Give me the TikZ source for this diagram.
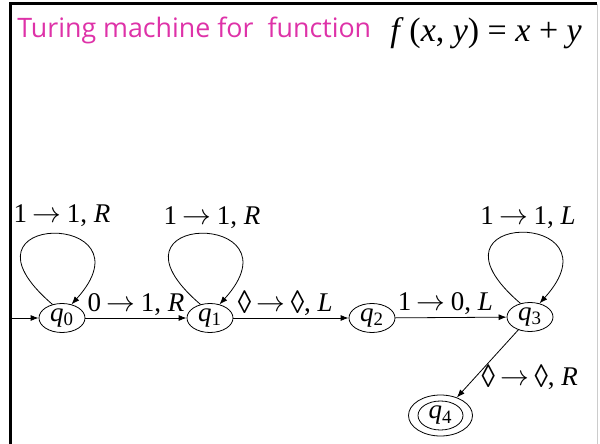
\documentclass[tikz,border=0pt]{standalone}
\usepackage{fontspec}
\usepackage{graphicx}
\usetikzlibrary{shapes.geometric,arrows.meta}
\newfontfamily\tms{Liberation Serif}
\newfontfamily\ttl{Open Sans}
\definecolor{titlepink}{RGB}{222,50,168}
\newcommand{\qs}[1]{\textit{q}\textsubscript{#1}}
\newcommand{\dm}{\raisebox{-0.2ex}{\scalebox{1}[1.2]{\char"25CA}}}
\newcommand{\ra}{$\rightarrow$}

\begin{document}
\begin{tikzpicture}[x=0.5pt,y=-0.5pt,>={Latex[length=4pt,width=3pt]},
  state/.style={ellipse,draw,inner sep=0pt,minimum width=23pt,minimum height=14.5pt,font=\tms\fontsize{13.5}{15}\selectfont},
  rule/.style={font=\tms\fontsize{13.5}{15}\selectfont,inner sep=1pt},
  selfloop/.style={to path={.. controls +(-110,-94) and +(85,-94) .. (\tikztotarget)}}]
\useasboundingbox (0,0) rectangle (600,444);
\draw[line width=1.5pt] (10.5,444)--(10.5,4)--(597,4);
\draw[black!20] (597.5,4)--(597.5,444);
\node[anchor=base west,inner sep=0pt,text=titlepink,font=\ttl\fontsize{13.4}{16}\selectfont] (title) at (17,38) {Turing machine for\ \ function};
\node[anchor=base west,inner sep=0pt,font=\tms\fontsize{17}{20}\selectfont] (formula) at (390,42) {\textit{f}\,(\textit{x}, \textit{y})\ =\ \textit{x}\ +\ \textit{y}};
\node[state] (q0) at (62,318) {\qs{0}};
\node[state] (q1) at (210,318) {\qs{1}};
\node[state] (q2) at (372,318) {\qs{2}};
\node[state] (q3) at (530,317) {\qs{3}};
\node[ellipse,draw,inner sep=0pt,minimum width=32pt,minimum height=20.5pt,font=\tms\fontsize{13.5}{15}\selectfont] (q4) at (440.5,415.5) {\qs{4}};
\draw (q4) ellipse (22.5 and 14.5);
\coordinate (start) at (12,318);
\draw[->] (start)--(q0);
\draw[->] (q0)--(q1) node[rule,midway,above] {0\hspace{0.2em}\ra\hspace{0.2em}1, \textit{R}};
\draw[->] (q1)--(q2) node[rule,pos=0.45,above] {\dm\hspace{0.2em}\ra\hspace{0.2em}\dm, \textit{L}};
\draw[->] (q2)--(q3) node[rule,pos=0.45,above] {1\hspace{0.2em}\ra\hspace{0.2em}0, \textit{L}};
\draw[->] (q3)--(q4) node[rule,pos=0.7,right=2pt] {\dm\hspace{0.2em}\ra\hspace{0.2em}\dm, \textit{R}};
\draw[->] (q0.125) to[selfloop] (q0.55);
\draw[->] (q1.125) to[selfloop] (q1.55);
\draw[->] (q3.125) to[selfloop] (q3.55);
\node[rule] (l0) at (62,216) {1\hspace{0.2em}\ra\hspace{0.2em}1, \textit{R}};
\node[rule] (l1) at (212,218) {1\hspace{0.2em}\ra\hspace{0.2em}1, \textit{R}};
\node[rule] (l3) at (528,218) {1\hspace{0.2em}\ra\hspace{0.2em}1, \textit{L}};
\end{tikzpicture}
\end{document}
